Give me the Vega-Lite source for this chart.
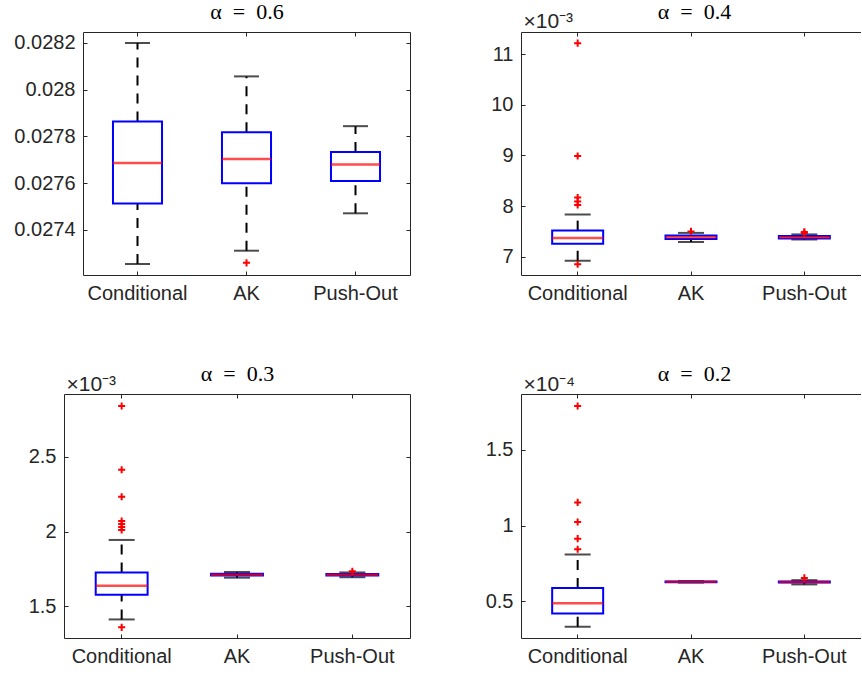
{
  "$schema": "https://vega.github.io/schema/vega-lite/v6.json",
  "background": "white",
  "padding": {"left": 0, "top": 0, "right": 0, "bottom": 0},
  "datasets": {
    "stats": [
      {"panel": "a06", "method": "Conditional", "lower": 0.027254, "q1": 0.027513, "median": 0.027686, "q3": 0.027864, "upper": 0.0282},
      {"panel": "a06", "method": "AK", "lower": 0.027311, "q1": 0.0276, "median": 0.027703, "q3": 0.027818, "upper": 0.028057},
      {"panel": "a06", "method": "Push-Out", "lower": 0.027471, "q1": 0.027609, "median": 0.02768, "q3": 0.027733, "upper": 0.027844},
      {"panel": "a04", "method": "Conditional", "lower": 0.00692, "q1": 0.007257, "median": 0.00737, "q3": 0.007515, "upper": 0.007834},
      {"panel": "a04", "method": "AK", "lower": 0.00729, "q1": 0.00735, "median": 0.007385, "q3": 0.00742, "upper": 0.00747},
      {"panel": "a04", "method": "Push-Out", "lower": 0.00734, "q1": 0.00736, "median": 0.007385, "q3": 0.00741, "upper": 0.00744},
      {"panel": "a03", "method": "Conditional", "lower": 0.001413, "q1": 0.001578, "median": 0.001638, "q3": 0.001727, "upper": 0.001944},
      {"panel": "a03", "method": "AK", "lower": 0.001692, "q1": 0.001706, "median": 0.001712, "q3": 0.001718, "upper": 0.00173},
      {"panel": "a03", "method": "Push-Out", "lower": 0.001695, "q1": 0.001706, "median": 0.001712, "q3": 0.001717, "upper": 0.001727},
      {"panel": "a02", "method": "Conditional", "lower": 0.0000333, "q1": 0.0000421, "median": 0.0000487, "q3": 0.0000589, "upper": 0.0000809},
      {"panel": "a02", "method": "AK", "lower": 0.0000624, "q1": 0.0000627, "median": 0.0000629, "q3": 0.0000631, "upper": 0.0000634},
      {"panel": "a02", "method": "Push-Out", "lower": 0.0000612, "q1": 0.0000624, "median": 0.0000628, "q3": 0.0000632, "upper": 0.000064}
    ],
    "outliers": [
      {"panel": "a06", "method": "AK", "value": 0.027259},
      {"panel": "a04", "method": "Conditional", "value": 0.01122},
      {"panel": "a04", "method": "Conditional", "value": 0.00899},
      {"panel": "a04", "method": "Conditional", "value": 0.00817},
      {"panel": "a04", "method": "Conditional", "value": 0.00809},
      {"panel": "a04", "method": "Conditional", "value": 0.00802},
      {"panel": "a04", "method": "Conditional", "value": 0.00685},
      {"panel": "a04", "method": "AK", "value": 0.0075},
      {"panel": "a04", "method": "Push-Out", "value": 0.00749},
      {"panel": "a04", "method": "Push-Out", "value": 0.00747},
      {"panel": "a03", "method": "Conditional", "value": 0.002839},
      {"panel": "a03", "method": "Conditional", "value": 0.002413},
      {"panel": "a03", "method": "Conditional", "value": 0.002233},
      {"panel": "a03", "method": "Conditional", "value": 0.00207},
      {"panel": "a03", "method": "Conditional", "value": 0.00205},
      {"panel": "a03", "method": "Conditional", "value": 0.00203},
      {"panel": "a03", "method": "Conditional", "value": 0.00201},
      {"panel": "a03", "method": "Conditional", "value": 0.00136},
      {"panel": "a03", "method": "Push-Out", "value": 0.001735},
      {"panel": "a02", "method": "Conditional", "value": 0.0001789},
      {"panel": "a02", "method": "Conditional", "value": 0.0001153},
      {"panel": "a02", "method": "Conditional", "value": 0.0001024},
      {"panel": "a02", "method": "Conditional", "value": 0.0000914},
      {"panel": "a02", "method": "Conditional", "value": 0.0000844},
      {"panel": "a02", "method": "Push-Out", "value": 0.0000655}
    ]
  },
  "concat": [
    {
      "spacing": 79,
      "hconcat": [
        {
          "width": 327, "height": 243,
          "resolve": {"axis": {"x": "independent", "y": "independent"}},
          "layer": [
            {"data": {"name": "stats"}, "transform": [{"filter": "datum.panel === 'a06'"}],
             "mark": {"type": "rule", "color": "#000000", "strokeWidth": 2, "strokeDash": [10, 8]},
             "encoding": {
               "x": {"field": "method", "type": "nominal", "sort": null, "scale": {"type": "band", "domain": ["Conditional", "AK", "Push-Out"], "paddingInner": 0, "paddingOuter": 0}, "axis": {"orient": "bottom", "title": null, "labelAngle": 0, "labelPadding": 12, "labelBaseline": "top"}},
               "y": {"field": "q3", "type": "quantitative", "scale": {"domain": [0.027207, 0.028247], "nice": false, "zero": false}, "axis": {"orient": "left", "title": null, "values": [0.0274, 0.0276, 0.0278, 0.028, 0.0282], "format": "~g", "labelPadding": 12, "minExtent": 83, "maxExtent": 83}},
               "y2": {"field": "upper"}}},
            {"data": {"name": "stats"}, "transform": [{"filter": "datum.panel === 'a06'"}],
             "mark": {"type": "rule", "color": "#000000", "strokeWidth": 2, "strokeDash": [10, 8]},
             "encoding": {
               "x": {"field": "method", "type": "nominal", "sort": null, "axis": null},
               "y": {"field": "lower", "type": "quantitative", "axis": null},
               "y2": {"field": "q1"}}},
            {"data": {"name": "stats"}, "transform": [{"filter": "datum.panel === 'a06'"}],
             "mark": {"type": "tick", "color": "#000000", "thickness": 2, "size": 25},
             "encoding": {"x": {"field": "method", "type": "nominal", "sort": null, "axis": null}, "y": {"field": "upper", "type": "quantitative", "axis": null}}},
            {"data": {"name": "stats"}, "transform": [{"filter": "datum.panel === 'a06'"}],
             "mark": {"type": "tick", "color": "#000000", "thickness": 2, "size": 25},
             "encoding": {"x": {"field": "method", "type": "nominal", "sort": null, "axis": null}, "y": {"field": "lower", "type": "quantitative", "axis": null}}},
            {"data": {"name": "stats"}, "transform": [{"filter": "datum.panel === 'a06'"}],
             "mark": {"type": "bar", "filled": false, "stroke": "#0000ff", "strokeWidth": 2, "width": {"band": 0.45}},
             "encoding": {
               "x": {"field": "method", "type": "nominal", "sort": null, "axis": {"orient": "top", "labels": false, "title": "α\u2002=\u20020.6", "titleX": 163.5, "titleY": -13.4}},
               "y": {"field": "q1", "type": "quantitative", "axis": {"orient": "right", "title": null, "labels": false, "values": [0.0274, 0.0276, 0.0278, 0.028, 0.0282]}},
               "y2": {"field": "q3"}}},
            {"data": {"name": "stats"}, "transform": [{"filter": "datum.panel === 'a06'"}],
             "mark": {"type": "tick", "color": "#ff0000", "thickness": 2.5, "size": 49},
             "encoding": {"x": {"field": "method", "type": "nominal", "sort": null, "axis": null}, "y": {"field": "median", "type": "quantitative", "axis": null}}},
            {"data": {"name": "outliers"}, "transform": [{"filter": "datum.panel === 'a06'"}],
             "mark": {"type": "point", "shape": "M-1,0L1,0M0,-1L0,1", "filled": false, "stroke": "#ff0000", "strokeWidth": 2, "size": 50, "opacity": 1},
             "encoding": {"x": {"field": "method", "type": "nominal", "sort": null, "axis": null}, "y": {"field": "value", "type": "quantitative", "axis": null}}}
          ]
        },
        {
          "width": 340, "height": 243,
          "resolve": {"axis": {"x": "independent", "y": "independent"}},
          "layer": [
            {"data": {"name": "stats"}, "transform": [{"filter": "datum.panel === 'a04'"}],
             "mark": {"type": "rule", "color": "#000000", "strokeWidth": 2, "strokeDash": [10, 8]},
             "encoding": {
               "x": {"field": "method", "type": "nominal", "sort": null, "scale": {"type": "band", "domain": ["Conditional", "AK", "Push-Out"], "paddingInner": 0, "paddingOuter": 0}, "axis": {"orient": "bottom", "title": null, "labelAngle": 0, "labelPadding": 12, "labelBaseline": "top"}},
               "y": {"field": "q3", "type": "quantitative", "scale": {"domain": [0.006638, 0.01144], "nice": false, "zero": false}, "axis": {"orient": "left", "title": "×10⁻³", "titleAngle": 0, "titleAlign": "left", "titleBaseline": "alphabetic", "titleX": 2, "titleY": -5, "titleFontSize": 21, "values": [0.007, 0.008, 0.009, 0.01, 0.011], "labelExpr": "format(datum.value*1000, '~g')", "labelPadding": 12, "minExtent": 31, "maxExtent": 31}},
               "y2": {"field": "upper"}}},
            {"data": {"name": "stats"}, "transform": [{"filter": "datum.panel === 'a04'"}],
             "mark": {"type": "rule", "color": "#000000", "strokeWidth": 2, "strokeDash": [10, 8]},
             "encoding": {
               "x": {"field": "method", "type": "nominal", "sort": null, "axis": null},
               "y": {"field": "lower", "type": "quantitative", "axis": null},
               "y2": {"field": "q1"}}},
            {"data": {"name": "stats"}, "transform": [{"filter": "datum.panel === 'a04'"}],
             "mark": {"type": "tick", "color": "#000000", "thickness": 2, "size": 26},
             "encoding": {"x": {"field": "method", "type": "nominal", "sort": null, "axis": null}, "y": {"field": "upper", "type": "quantitative", "axis": null}}},
            {"data": {"name": "stats"}, "transform": [{"filter": "datum.panel === 'a04'"}],
             "mark": {"type": "tick", "color": "#000000", "thickness": 2, "size": 26},
             "encoding": {"x": {"field": "method", "type": "nominal", "sort": null, "axis": null}, "y": {"field": "lower", "type": "quantitative", "axis": null}}},
            {"data": {"name": "stats"}, "transform": [{"filter": "datum.panel === 'a04'"}],
             "mark": {"type": "bar", "filled": false, "stroke": "#0000ff", "strokeWidth": 2, "width": {"band": 0.45}},
             "encoding": {
               "x": {"field": "method", "type": "nominal", "sort": null, "axis": {"orient": "top", "labels": false, "title": "α\u2002=\u20020.4", "titleX": 173, "titleY": -13.4}},
               "y": {"field": "q1", "type": "quantitative", "axis": null},
               "y2": {"field": "q3"}}},
            {"data": {"name": "stats"}, "transform": [{"filter": "datum.panel === 'a04'"}],
             "mark": {"type": "tick", "color": "#ff0000", "thickness": 2.5, "size": 51},
             "encoding": {"x": {"field": "method", "type": "nominal", "sort": null, "axis": null}, "y": {"field": "median", "type": "quantitative", "axis": null}}},
            {"data": {"name": "outliers"}, "transform": [{"filter": "datum.panel === 'a04'"}],
             "mark": {"type": "point", "shape": "M-1,0L1,0M0,-1L0,1", "filled": false, "stroke": "#ff0000", "strokeWidth": 2, "size": 50, "opacity": 1},
             "encoding": {"x": {"field": "method", "type": "nominal", "sort": null, "axis": null}, "y": {"field": "value", "type": "quantitative", "axis": null}}}
          ]
        }
      ]
    },
    {
      "spacing": 56,
      "hconcat": [
        {
          "width": 327, "height": 244,
          "resolve": {"axis": {"x": "independent", "y": "independent"}},
          "layer": [
            {"data": {"name": "stats"}, "transform": [{"filter": "datum.panel === 'a03'"}],
             "mark": {"type": "rule", "color": "#000000", "strokeWidth": 2, "strokeDash": [10, 8]},
             "encoding": {
               "x": {"field": "method", "type": "nominal", "sort": null, "scale": {"type": "band", "domain": ["Conditional", "AK", "Push-Out"], "range": [-19, 327], "paddingInner": 0, "paddingOuter": 0}, "axis": {"orient": "bottom", "title": null, "labelAngle": 0, "labelPadding": 12, "labelBaseline": "top"}},
               "y": {"field": "q3", "type": "quantitative", "scale": {"domain": [0.001289, 0.002919], "nice": false, "zero": false}, "axis": {"orient": "left", "offset": 19, "title": "×10⁻³", "titleAngle": 0, "titleAlign": "left", "titleBaseline": "alphabetic", "titleX": 2, "titleY": -4, "titleFontSize": 21, "values": [0.0015, 0.002, 0.0025], "labelExpr": "format(datum.value*1000, '~g')", "labelPadding": 12, "minExtent": 64, "maxExtent": 64}},
               "y2": {"field": "upper"}}},
            {"data": {"name": "stats"}, "transform": [{"filter": "datum.panel === 'a03'"}],
             "mark": {"type": "rule", "color": "#000000", "strokeWidth": 2, "strokeDash": [10, 8]},
             "encoding": {
               "x": {"field": "method", "type": "nominal", "sort": null, "axis": null},
               "y": {"field": "lower", "type": "quantitative", "axis": null},
               "y2": {"field": "q1"}}},
            {"data": {"name": "stats"}, "transform": [{"filter": "datum.panel === 'a03'"}],
             "mark": {"type": "tick", "color": "#000000", "thickness": 2, "size": 26},
             "encoding": {"x": {"field": "method", "type": "nominal", "sort": null, "axis": null}, "y": {"field": "upper", "type": "quantitative", "axis": null}}},
            {"data": {"name": "stats"}, "transform": [{"filter": "datum.panel === 'a03'"}],
             "mark": {"type": "tick", "color": "#000000", "thickness": 2, "size": 26},
             "encoding": {"x": {"field": "method", "type": "nominal", "sort": null, "axis": null}, "y": {"field": "lower", "type": "quantitative", "axis": null}}},
            {"data": {"name": "stats"}, "transform": [{"filter": "datum.panel === 'a03'"}],
             "mark": {"type": "bar", "filled": false, "stroke": "#0000ff", "strokeWidth": 2, "width": {"band": 0.45}},
             "encoding": {
               "x": {"field": "method", "type": "nominal", "sort": null, "axis": {"orient": "top", "labels": false, "title": "α\u2002=\u20020.3", "titleX": 154, "titleY": -13.3}},
               "y": {"field": "q1", "type": "quantitative", "axis": {"orient": "right", "title": null, "labels": false, "values": [0.0015, 0.002, 0.0025]}},
               "y2": {"field": "q3"}}},
            {"data": {"name": "stats"}, "transform": [{"filter": "datum.panel === 'a03'"}],
             "mark": {"type": "tick", "color": "#ff0000", "thickness": 2.5, "size": 52},
             "encoding": {"x": {"field": "method", "type": "nominal", "sort": null, "axis": null}, "y": {"field": "median", "type": "quantitative", "axis": null}}},
            {"data": {"name": "outliers"}, "transform": [{"filter": "datum.panel === 'a03'"}],
             "mark": {"type": "point", "shape": "M-1,0L1,0M0,-1L0,1", "filled": false, "stroke": "#ff0000", "strokeWidth": 2, "size": 50, "opacity": 1},
             "encoding": {"x": {"field": "method", "type": "nominal", "sort": null, "axis": null}, "y": {"field": "value", "type": "quantitative", "axis": null}}}
          ]
        },
        {
          "width": 340, "height": 244,
          "resolve": {"axis": {"x": "independent", "y": "independent"}},
          "layer": [
            {"data": {"name": "stats"}, "transform": [{"filter": "datum.panel === 'a02'"}],
             "mark": {"type": "rule", "color": "#000000", "strokeWidth": 2, "strokeDash": [10, 8]},
             "encoding": {
               "x": {"field": "method", "type": "nominal", "sort": null, "scale": {"type": "band", "domain": ["Conditional", "AK", "Push-Out"], "paddingInner": 0, "paddingOuter": 0}, "axis": {"orient": "bottom", "title": null, "labelAngle": 0, "labelPadding": 12, "labelBaseline": "top"}},
               "y": {"field": "q3", "type": "quantitative", "scale": {"domain": [0.00002586, 0.0001868], "nice": false, "zero": false}, "axis": {"orient": "left", "title": "×10⁻⁴", "titleAngle": 0, "titleAlign": "left", "titleBaseline": "alphabetic", "titleX": 2, "titleY": -4, "titleFontSize": 21, "values": [0.00005, 0.0001, 0.00015], "labelExpr": "format(datum.value*10000, '~g')", "labelPadding": 12, "minExtent": 36, "maxExtent": 36}},
               "y2": {"field": "upper"}}},
            {"data": {"name": "stats"}, "transform": [{"filter": "datum.panel === 'a02'"}],
             "mark": {"type": "rule", "color": "#000000", "strokeWidth": 2, "strokeDash": [10, 8]},
             "encoding": {
               "x": {"field": "method", "type": "nominal", "sort": null, "axis": null},
               "y": {"field": "lower", "type": "quantitative", "axis": null},
               "y2": {"field": "q1"}}},
            {"data": {"name": "stats"}, "transform": [{"filter": "datum.panel === 'a02'"}],
             "mark": {"type": "tick", "color": "#000000", "thickness": 2, "size": 26},
             "encoding": {"x": {"field": "method", "type": "nominal", "sort": null, "axis": null}, "y": {"field": "upper", "type": "quantitative", "axis": null}}},
            {"data": {"name": "stats"}, "transform": [{"filter": "datum.panel === 'a02'"}],
             "mark": {"type": "tick", "color": "#000000", "thickness": 2, "size": 26},
             "encoding": {"x": {"field": "method", "type": "nominal", "sort": null, "axis": null}, "y": {"field": "lower", "type": "quantitative", "axis": null}}},
            {"data": {"name": "stats"}, "transform": [{"filter": "datum.panel === 'a02'"}],
             "mark": {"type": "bar", "filled": false, "stroke": "#0000ff", "strokeWidth": 2, "width": {"band": 0.45}},
             "encoding": {
               "x": {"field": "method", "type": "nominal", "sort": null, "axis": {"orient": "top", "labels": false, "title": "α\u2002=\u20020.2", "titleX": 173, "titleY": -13.3}},
               "y": {"field": "q1", "type": "quantitative", "axis": null},
               "y2": {"field": "q3"}}},
            {"data": {"name": "stats"}, "transform": [{"filter": "datum.panel === 'a02'"}],
             "mark": {"type": "tick", "color": "#ff0000", "thickness": 2.5, "size": 51},
             "encoding": {"x": {"field": "method", "type": "nominal", "sort": null, "axis": null}, "y": {"field": "median", "type": "quantitative", "axis": null}}},
            {"data": {"name": "outliers"}, "transform": [{"filter": "datum.panel === 'a02'"}],
             "mark": {"type": "point", "shape": "M-1,0L1,0M0,-1L0,1", "filled": false, "stroke": "#ff0000", "strokeWidth": 2, "size": 50, "opacity": 1},
             "encoding": {"x": {"field": "method", "type": "nominal", "sort": null, "axis": null}, "y": {"field": "value", "type": "quantitative", "axis": null}}}
          ]
        }
      ]
    }
  ],
  "columns": 1,
  "spacing": 59,
  "config": {
    "view": {"stroke": null},
    "axis": {"labelFont": "Liberation Sans", "labelFontSize": 20, "labelColor": "#262626", "domainColor": "#262626", "tickColor": "#262626", "domainWidth": 1, "tickWidth": 1, "tickSize": -4, "grid": false, "titleFont": "Liberation Sans", "titleFontWeight": "normal", "titleColor": "#262626"},
    "axisTop": {"titleFont": "Liberation Serif", "titleFontSize": 22, "titleColor": "#000000", "titleAngle": 0, "titleAlign": "center", "titleBaseline": "alphabetic"}
  }
}
